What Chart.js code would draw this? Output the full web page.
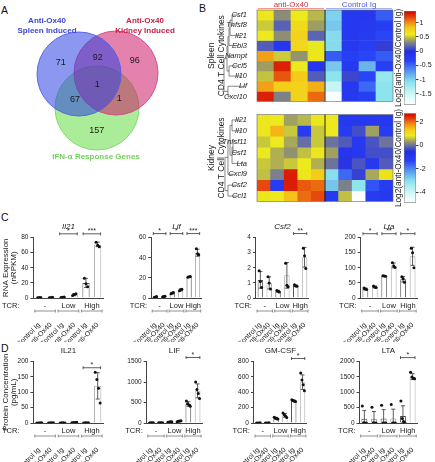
<!DOCTYPE html>
<html lang="en">
<head>
<meta charset="UTF-8">
<meta name="viewport" content="width=device-width, initial-scale=1.0">
<title>Anti-Ox40 induced cytokines</title>
<script src="https://cdn.jsdelivr.net/npm/chart.js"></script>
<style>
  html, body { margin: 0; padding: 0; background: #fff; }
  #fig { position: relative; width: 435px; height: 462px; overflow: hidden; font-family: 'Liberation Sans', Arial, sans-serif; }
  #fig canvas { position: absolute; }
  .tag { position: absolute; font-size: 10.5px; color: #111; line-height: 12px; }
</style>
</head>
<body>
<div id="fig">
  <div class="tag" style="left:1px;top:4px">A</div>
  <div class="tag" style="left:199px;top:2px">B</div>
  <div class="tag" style="left:1px;top:211px">C</div>
  <div class="tag" style="left:1px;top:342px">D</div>
</div>
<script>
// ---------- data ----------
// A: Venn counts, region = which sets it belongs to (0 spleen, 1 kidney, 2 IFN)
const vennSetNames = [['Anti-Ox40', 'Spleen Induced'], ['Anti-Ox40', 'Kidney Induced'], ['IFN-\u03b1 Response Genes']];
const vennRegionSets = [[0], [0, 1], [1], [0, 1, 2], [0, 2], [1, 2], [2]];
const vennCounts = [71, 92, 96, 1, 67, 1, 157];

// B: heatmaps, log2(anti-Ox40 / Control Ig)
const treatmentGroups = ['anti-Ox40', 'Control Ig'];
const spleenGroupSizes = [4, 4];
const kidneyGroupSizes = [5, 5];
const spleenGenes = ['Csf1', 'Tnfsf8', 'Il21', 'Ebi3', 'Nampt', 'Ccl5', 'Il10', 'Lif', 'Cxcl10'];
const spleenLog2 = [
  [0.62, 0.32, 0.60, 0.45, -1.00, -0.20, -0.20, -0.45],
  [0.50, 0.17, 0.70, 0.38, -0.95, -0.20, -0.22, -0.30],
  [0.60, 0.33, 0.75, 0.18, -1.05, -0.20, -0.25, -0.35],
  [0.15, -0.15, 0.72, 0.58, -1.05, -0.20, -0.30, 0.05],
  [0.95, 0.50, 0.35, 0.62, -0.45, -0.30, -0.35, -0.45],
  [0.38, 1.30, 0.60, -0.15, -0.95, -0.20, -0.85, -0.30],
  [0.48, 1.15, 0.80, 0.15, -1.10, 0.08, -0.35, -1.15],
  [0.95, 0.78, 0.75, 0.90, -1.45, -0.20, -0.50, -1.10],
  [1.30, 0.28, 0.75, 1.10, -1.85, -0.20, -0.30, -1.10]
];
const spleenScale = [-1.88, 1.41];
const spleenTicks = [-1.5, -1, -0.5, 0, 0.5, 1];
const kidneyGenes = ['Il21', 'Il10', 'Tnfsf11', 'Csf1', 'Lta', 'Cxcl9', 'Csf2', 'Ccl1'];
const kidneyLog2 = [
  [0.90, 0.85, 0.35, 0.50, 0.90, 0.85, -1.00, -1.00, -1.00, -1.00],
  [0.90, 1.50, 0.60, -1.10, 0.60, 0.85, -1.10, -0.30, 0.35, -1.10],
  [0.60, 0.85, 0.40, -0.05, 0.60, 0.00, -0.20, -1.00, -0.25, 0.00],
  [0.85, 0.45, 0.25, 0.55, 0.90, 0.35, -0.90, -1.00, -0.30, -0.30],
  [0.60, 0.45, 0.60, 0.85, 0.45, 0.00, -0.50, -0.25, -1.00, -0.20],
  [0.55, 0.10, 2.50, 0.90, 1.30, -3.00, -1.70, -0.40, 0.40, 0.95],
  [2.20, -1.10, 2.50, 2.10, 2.00, -2.70, 0.10, -3.10, -1.50, -1.10],
  [0.90, 0.85, 1.40, 2.00, 2.20, -1.00, 0.55, -4.80, -1.10, -1.00]
];
const kidneyScale = [-4.9, 2.73];
const kidneyTicks = [-4, -2, 0, 2];
// dendrogram merges: [node, node, height]; new nodes are numbered after the leaves
const spleenTree = [[0, 1, 0.33], [9, 2, 0.5], [10, 3, 0.58], [11, 4, 0.67], [5, 6, 0.58], [12, 13, 0.75], [7, 8, 0.67], [14, 15, 1.0]];
const kidneyTree = [[0, 1, 0.33], [2, 3, 0.25], [9, 4, 0.33], [8, 10, 0.5], [11, 5, 0.67], [6, 7, 0.67], [12, 13, 0.92]];

// C / D: bars (mean), sd, single replicates, significance [from, to, level, stars]
const tcrLevels = ['-', 'Low', 'High'];
const treatments = ['Control Ig', 'anti-Ox40'];

const il21RnaMean = [0.5, 0.6, 1.0, 4.5, 20, 71];
const il21RnaSd = [0.4, 0.4, 0.5, 1.5, 6, 3];
const il21RnaPts = [[0.2, 0.6, 0.8], [0.3, 0.6, 0.9], [0.6, 1.0, 1.4], [3.2, 4.8, 5.6], [26, 19, 15], [74, 70, 68]];
const il21RnaSig = [[2, 3, 85, '*'], [4, 5, 85, '***']];
const il21RnaTicks = [0, 20, 40, 60, 80];

const lifRnaMean = [1.0, 1.4, 4.8, 8.0, 21, 45];
const lifRnaSd = [0.4, 0.4, 0.7, 1.0, 0.5, 3.5];
const lifRnaPts = [[0.6, 1.0, 1.4], [1.0, 1.4, 1.8], [4.2, 4.9, 5.4], [7.2, 8.1, 8.8], [20.6, 21, 21.4], [49, 44, 43]];
const lifRnaSig = [[0, 1, 64, '*'], [2, 3, 64, '*'], [4, 5, 64, '***']];
const lifRnaTicks = [0, 20, 40, 60];

const csf2RnaMean = [1.2, 1.0, 0.45, 1.5, 0.82, 2.7];
const csf2RnaSd = [0.55, 0.4, 0.06, 0.85, 0.05, 0.65];
const csf2RnaPts = [[1.8, 1.1, 0.7], [1.4, 1.0, 0.6], [0.5, 0.45, 0.4], [2.3, 0.85, 0.75], [0.87, 0.8, 0.78], [3.3, 2.8, 1.95]];
const csf2RnaSig = [[4, 5, 4.27, '**']];
const csf2RnaTicks = [0, 1, 2, 3, 4];

const ltaRnaMean = [30, 37, 73, 108, 62, 138];
const ltaRnaSd = [3, 3, 1.5, 8, 9, 30];
const ltaRnaPts = [[33, 30, 28], [40, 36, 35], [74, 73, 72], [117, 106, 101], [70, 64, 52], [165, 150, 100]];
const ltaRnaSig = [[0, 1, 213, '*'], [2, 3, 213, '**'], [4, 5, 213, '*']];
const ltaRnaTicks = [0, 50, 100, 150, 200];

const il21ProtMean = [0.5, 0.5, 0.5, 1.5, 0.5, 121];
const il21ProtSd = [0.5, 0.5, 0.5, 1, 0.5, 43];
const il21ProtPts = [[0, 0, 0.5, 1], [0, 0.5, 1, 1], [0, 0.5, 1, 0], [0.5, 1.5, 2, 2.5], [0, 0.5, 0.5, 1], [165, 142, 113, 65]];
const il21ProtSig = [[4, 5, 180, '*']];
const il21ProtTicks = [0, 50, 100, 150, 200];

const lifProtMean = [5, 6, 25, 42, 465, 785];
const lifProtSd = [3, 3, 8, 12, 55, 170];
const lifProtPts = [[3, 5, 6, 7], [4, 6, 7, 8], [18, 25, 28, 30], [30, 40, 48, 52], [540, 470, 440, 410], [1000, 820, 720, 600]];
const lifProtSig = [[4, 5, 1600, '*']];
const lifProtTicks = [0, 500, 1000, 1500];

const gmcsfProtMean = [1, 1, 62, 100, 290, 532];
const gmcsfProtSd = [1, 1, 11, 25, 10, 95];
const gmcsfProtPts = [[0, 1, 1, 2], [0, 1, 1, 2], [75, 65, 56, 52], [130, 108, 90, 72], [302, 292, 285, 281], [650, 560, 500, 420]];
const gmcsfProtSig = [[4, 5, 840, '*']];
const gmcsfProtTicks = [0, 200, 400, 600, 800];

const ltaProtMean = [140, 130, 145, 150, 230, 1510];
const ltaProtSd = [270, 245, 290, 300, 330, 95];
const ltaProtPts = [[550, 10, 0, 0], [510, 10, 0, 0], [580, 0, 0, 0], [600, 0, 0, 0], [720, 150, 50, 0], [1650, 1500, 1460, 1440]];
const ltaProtSig = [[4, 5, 2130, '*']];
const ltaProtTicks = [0, 500, 1000, 1500, 2000];

// ---------- setup ----------
const FONT = "'Liberation Sans', Arial, sans-serif";
Chart.defaults.font.family = FONT;
Chart.defaults.color = '#222';
Chart.defaults.animation = false;
Chart.defaults.responsive = false;
Chart.defaults.events = [];
Chart.defaults.layout.autoPadding = false;
Chart.defaults.plugins.legend.display = false;
Chart.defaults.plugins.tooltip.enabled = false;

const fig = document.getElementById('fig');
function addCanvas(left, top, width, height) {
    const c = document.createElement('canvas');
    c.width = width;
    c.height = height;
    c.style.left = left + 'px';
    c.style.top = top + 'px';
    c.style.width = width + 'px';
    c.style.height = height + 'px';
    fig.appendChild(c);
    return c;
}

// ---------- A: Venn ----------
const vennGeom = {
    centers: [[79, 74], [116, 73], [97, 108]],
    radius: 42,
    fill: ['rgba(45,65,225,0.55)', 'rgba(205,25,105,0.55)', 'rgba(100,220,65,0.55)'],
    edge: ['rgba(80,95,225,0.9)', 'rgba(210,70,135,0.9)', 'rgba(120,215,100,0.9)'],
    ink: ['#3b47d8', '#c42046', '#72cf5a'],
    titleAt: [[47, 21], [145, 21], [96, 157]]
};

const vennText = {
    id: 'vennText',
    afterDatasetsDraw(chart) {
        const { ctx, scales: { x, y } } = chart;
        const C = vennGeom.centers;
        const g = [0, 1].map(k => (C[0][k] + C[1][k] + C[2][k]) / 3);
        ctx.save();
        ctx.textAlign = 'center';
        ctx.textBaseline = 'middle';
        ctx.fillStyle = '#1a1a1a';
        ctx.font = '9px ' + FONT;
        vennRegionSets.forEach((sets, i) => {
            // region label sits on the region's side of the common centroid
            const m = [0, 1].map(k => sets.reduce((s, j) => s + C[j][k], 0) / sets.length);
            const push = sets.length === 1 ? 2.0 : sets.length === 2 ? 2.4 : 0;
            ctx.fillText(String(vennCounts[i]),
                x.getPixelForValue(g[0] + push * (m[0] - g[0])),
                y.getPixelForValue(g[1] + push * (m[1] - g[1])));
        });
        ctx.font = 'bold 8px ' + FONT;
        vennSetNames.forEach((lines, i) => {
            ctx.fillStyle = vennGeom.ink[i];
            lines.forEach((t, l) => {
                ctx.fillText(t, x.getPixelForValue(vennGeom.titleAt[i][0]), y.getPixelForValue(vennGeom.titleAt[i][1] + l * 10));
            });
        });
        ctx.restore();
    }
};

new Chart(addCanvas(0, 0, 200, 165), {
    type: 'bubble',
    data: {
        datasets: vennGeom.centers.map((c, i) => ({
            data: [{ x: c[0], y: c[1], r: vennGeom.radius }],
            backgroundColor: vennGeom.fill[i],
            borderColor: vennGeom.edge[i],
            borderWidth: 1,
            clip: false
        }))
    },
    options: {
        layout: { padding: 0, autoPadding: false },
        scales: {
            x: { type: 'linear', min: 0, max: 200, display: false },
            y: { type: 'linear', min: 0, max: 165, reverse: true, display: false }
        }
    },
    plugins: [vennText]
});

// ---------- B: heatmaps + colour bars ----------
const cmap = [
    [0.00, [255, 255, 255]],
    [0.10, [215, 248, 248]],
    [0.24, [140, 228, 236]],
    [0.36, [85, 150, 240]],
    [0.47, [40, 65, 245]],
    [0.57, [35, 45, 230]],
    [0.63, [95, 105, 175]],
    [0.68, [150, 150, 105]],
    [0.75, [235, 235, 30]],
    [0.82, [245, 200, 25]],
    [0.88, [240, 140, 20]],
    [0.94, [228, 60, 10]],
    [1.00, [205, 0, 0]]
];
function heatColor(v, range) {
    const f = Math.min(1, Math.max(0, (v - range[0]) / (range[1] - range[0])));
    for (let i = 1; i < cmap.length; i++) {
        if (f <= cmap[i][0]) {
            const [f0, c0] = cmap[i - 1];
            const [f1, c1] = cmap[i];
            const t = (f - f0) / (f1 - f0);
            return 'rgb(' + c0.map((c, k) => Math.round(c + (c1[k] - c) * t)).join(',') + ')';
        }
    }
    return 'rgb(205,0,0)';
}
const groupInk = ['#d2323f', '#4a5ee0'];
const groupLine = ['#ec9a9a', '#aab2ee'];

function heatDecor(spec) {
    return {
        id: 'heatDecor',
        afterDraw(chart) {
            const { ctx, chartArea: a, scales: { x, yg } } = chart;
            ctx.save();
            ctx.strokeStyle = '#666';
            ctx.lineWidth = 0.6;
            ctx.strokeRect(a.left, a.top, a.width, a.height);
            const split = x.getPixelForValue(spec.groupSizes[0] - 0.5);
            ctx.strokeStyle = '#111';
            ctx.lineWidth = 0.9;
            ctx.beginPath();
            ctx.moveTo(split, a.top);
            ctx.lineTo(split, a.bottom);
            ctx.stroke();

            if (spec.headers) {
                let start = 0;
                treatmentGroups.forEach((name, gi) => {
                    const x0 = x.getPixelForValue(start - 0.5);
                    const x1 = x.getPixelForValue(start + spec.groupSizes[gi] - 0.5);
                    ctx.strokeStyle = groupLine[gi];
                    ctx.lineWidth = 1;
                    ctx.beginPath();
                    ctx.moveTo(x0 + 1, a.top - 1.5);
                    ctx.lineTo(x1 - 1, a.top - 1.5);
                    ctx.stroke();
                    ctx.fillStyle = groupInk[gi];
                    ctx.font = '8px ' + FONT;
                    ctx.textAlign = 'center';
                    ctx.textBaseline = 'alphabetic';
                    ctx.fillText(name, (x0 + x1) / 2, a.top - 3);
                    start += spec.groupSizes[gi];
                });
            }

            // rotated side titles
            const yc = (a.top + a.bottom) / 2;
            ctx.fillStyle = '#222';
            ctx.font = '8.5px ' + FONT;
            ctx.textAlign = 'center';
            ctx.textBaseline = 'middle';
            [[spec.tissue, 45], ['CD4 T Cell Cytokines', 35]].forEach(([t, dx]) => {
                ctx.save();
                ctx.translate(a.left - dx, yc);
                ctx.rotate(-Math.PI / 2);
                ctx.fillText(t, 0, 0);
                ctx.restore();
            });

            // dendrogram
            ctx.font = 'italic 7.5px ' + FONT;
            const labelLeft = i => a.left - 2 - ctx.measureText(spec.genes[i]).width;
            const hx = h => a.left - 21 - h * 12;
            const nodes = spec.genes.map((g, i) => ({ y: yg.getPixelForValue(i), h: 0, leaf: true, i }));
            ctx.strokeStyle = '#555';
            ctx.lineWidth = 0.7;
            spec.tree.forEach(([p, q, h]) => {
                const xm = hx(h);
                ctx.beginPath();
                [nodes[p], nodes[q]].forEach(n => {
                    const xe = n.leaf ? Math.max(labelLeft(n.i) - 1.5, xm + 2) : hx(n.h);
                    ctx.moveTo(xm, n.y);
                    ctx.lineTo(xe, n.y);
                });
                ctx.moveTo(xm, nodes[p].y);
                ctx.lineTo(xm, nodes[q].y);
                ctx.stroke();
                nodes.push({ y: (nodes[p].y + nodes[q].y) / 2, h });
            });
            ctx.restore();
        }
    };
}

function drawHeatmap(canvas, spec) {
    const samples = [];
    treatmentGroups.forEach((g, gi) => {
        for (let k = 1; k <= spec.groupSizes[gi]; k++) samples.push(g + ' ' + k);
    });
    return new Chart(canvas, {
        type: 'bar',
        data: {
            labels: samples,
            datasets: spec.genes.map((g, r) => ({
                label: g,
                data: samples.map(() => 1),
                backgroundColor: spec.values[r].map(v => heatColor(v, spec.range)),
                borderWidth: 0,
                barPercentage: 1,
                categoryPercentage: 1,
                yAxisID: 'y'
            }))
        },
        options: {
            layout: { padding: spec.pad },
            scales: {
                x: { type: 'category', stacked: true, offset: true, display: false },
                y: { type: 'linear', stacked: true, reverse: true, min: 0, max: spec.genes.length, display: false },
                yg: {
                    type: 'category', labels: spec.genes, offset: true, position: 'left',
                    grid: { display: false }, border: { display: false },
                    ticks: { autoSkip: false, font: { size: 7.5, style: 'italic' }, color: '#222', padding: 2 },
                    afterFit: s => { s.width = 57; }
                }
            }
        },
        plugins: [heatDecor(spec)]
    });
}

const colorbarTitle = {
    id: 'colorbarTitle',
    afterDraw(chart) {
        const { ctx, chartArea: a } = chart;
        ctx.save();
        ctx.fillStyle = '#222';
        ctx.font = '8.3px ' + FONT;
        ctx.textAlign = 'center';
        ctx.textBaseline = 'middle';
        ctx.translate(a.left - 5, (a.top + a.bottom) / 2);
        ctx.rotate(-Math.PI / 2);
        ctx.fillText('Log2(anti-Ox40/Control Ig)', 0, 0);
        ctx.restore();
    }
};

function drawColorbar(canvas, range, ticks, pad) {
    return new Chart(canvas, {
        type: 'bar',
        data: {
            labels: ['scale'],
            datasets: [{
                data: [range],
                backgroundColor: c => {
                    const ch = c.chart;
                    if (!ch.chartArea) return '#fff';
                    const y = ch.scales.y;
                    const grad = ch.ctx.createLinearGradient(0, y.getPixelForValue(range[0]), 0, y.getPixelForValue(range[1]));
                    cmap.forEach(([f, col]) => grad.addColorStop(f, 'rgb(' + col.join(',') + ')'));
                    return grad;
                },
                borderColor: '#777',
                borderWidth: 0.8,
                borderSkipped: false,
                barPercentage: 1,
                categoryPercentage: 1
            }]
        },
        options: {
            layout: { padding: pad },
            scales: {
                x: { display: false },
                y: {
                    position: 'right', min: range[0], max: range[1],
                    afterBuildTicks: s => { s.ticks = ticks.map(v => ({ value: v })); },
                    ticks: { font: { size: 7 }, color: '#222', padding: 1, callback: v => String(v) },
                    grid: { drawOnChartArea: false, tickLength: 2.5, color: '#444' },
                    border: { display: false },
                    afterFit: s => { s.width = 18; }
                }
            }
        },
        plugins: [colorbarTitle]
    });
}

drawHeatmap(addCanvas(200, 0, 196, 108), {
    genes: spleenGenes, values: spleenLog2, range: spleenScale, groupSizes: spleenGroupSizes,
    tree: spleenTree, tissue: 'Spleen', headers: true, pad: { top: 10, right: 3, bottom: 2, left: 0 }
});
drawHeatmap(addCanvas(200, 108, 196, 100), {
    genes: kidneyGenes, values: kidneyLog2, range: kidneyScale, groupSizes: kidneyGroupSizes,
    tree: kidneyTree, tissue: 'Kidney', headers: false, pad: { top: 5, right: 3, bottom: 2, left: 0 }
});
drawColorbar(addCanvas(385, 0, 50, 110), spleenScale, spleenTicks, { top: 11, bottom: 3, left: 19, right: 1 });
drawColorbar(addCanvas(385, 108, 50, 100), kidneyScale, kidneyTicks, { top: 4, bottom: 2, left: 19, right: 1 });

// ---------- C / D: bar charts ----------
const barLabels = tcrLevels.flatMap(() => treatments);
const barEdge = barLabels.map((t, i) => (i % 2 === 0 ? '#555' : '#aaa'));

function barExtras(spec) {
    return {
        id: 'barExtras',
        afterDatasetDraw(chart, args) {
            if (args.index !== 0) return;
            // SD error bars, drawn under the dots
            const { ctx, scales: { y } } = chart;
            const meta = chart.getDatasetMeta(0);
            ctx.save();
            ctx.strokeStyle = '#333';
            ctx.lineWidth = 0.8;
            meta.data.forEach((bar, i) => {
                const m = spec.means[i], s = spec.sd[i];
                const y1 = y.getPixelForValue(m + s), y0 = y.getPixelForValue(Math.max(0, m - s));
                ctx.beginPath();
                ctx.moveTo(bar.x, y0); ctx.lineTo(bar.x, y1);
                ctx.moveTo(bar.x - 2, y1); ctx.lineTo(bar.x + 2, y1);
                ctx.moveTo(bar.x - 2, y0); ctx.lineTo(bar.x + 2, y0);
                ctx.stroke();
            });
            ctx.restore();
        },
        afterDraw(chart) {
            const { ctx, chartArea: a, scales: { x, y } } = chart;
            ctx.save();
            ctx.strokeStyle = '#333';
            ctx.fillStyle = '#222';
            ctx.lineWidth = 0.8;
            // significance brackets
            ctx.textAlign = 'center';
            ctx.textBaseline = 'alphabetic';
            ctx.font = '7px ' + FONT;
            spec.sig.forEach(([p, q, lvl, stars]) => {
                const x0 = x.getPixelForValue(p - 0.25), x1 = x.getPixelForValue(q + 0.25), yy = y.getPixelForValue(lvl);
                ctx.beginPath();
                ctx.moveTo(x0, yy); ctx.lineTo(x1, yy);
                ctx.moveTo(x0, yy - 1.5); ctx.lineTo(x0, yy + 1.5);
                ctx.moveTo(x1, yy - 1.5); ctx.lineTo(x1, yy + 1.5);
                ctx.stroke();
                ctx.fillText(stars, (x0 + x1) / 2, yy - 0.5);
            });
            // TCR group row
            const ty = a.bottom + 7.5, by = a.bottom + 13;
            ctx.font = '7.5px ' + FONT;
            ctx.textBaseline = 'middle';
            ctx.textAlign = 'right';
            ctx.fillText('TCR:', a.left - spec.tcrGap, ty);
            ctx.textAlign = 'center';
            ctx.strokeStyle = '#777';
            tcrLevels.forEach((lvl, g) => {
                ctx.fillText(lvl, x.getPixelForValue(2 * g + 0.5), ty);
                const x0 = x.getPixelForValue(2 * g - 0.38), x1 = x.getPixelForValue(2 * g + 1.38);
                ctx.beginPath();
                ctx.moveTo(x0, by); ctx.lineTo(x1, by);
                ctx.moveTo(x0, by - 1.5); ctx.lineTo(x0, by + 1.5);
                ctx.moveTo(x1, by - 1.5); ctx.lineTo(x1, by + 1.5);
                ctx.stroke();
            });
            ctx.restore();
        }
    };
}

function drawBars(canvas, spec) {
    const dots = [];
    spec.pts.forEach((arr, i) => arr.forEach((v, k) => dots.push({ x: i + (k - (arr.length - 1) / 2) * 0.14, y: v })));
    const top = spec.ticks[spec.ticks.length - 1];
    return new Chart(canvas, {
        type: 'bar',
        data: {
            datasets: [
                {
                    type: 'bar', data: spec.means.map((m, i) => ({ x: i, y: m })),
                    backgroundColor: '#fff', borderColor: barEdge, borderWidth: 1,
                    barPercentage: 0.62, categoryPercentage: 1, order: 2
                },
                {
                    type: 'scatter', data: dots,
                    pointRadius: 1.5, backgroundColor: '#111', borderWidth: 0, order: 1
                }
            ]
        },
        options: {
            layout: { padding: { right: 2 } },
            plugins: {
                title: {
                    display: true, text: spec.title, color: '#222', fullSize: false,
                    font: { size: 8, weight: 'normal', style: spec.italic ? 'italic' : 'normal' },
                    padding: { top: 3, bottom: 6 }
                }
            },
            scales: {
                x: {
                    type: 'linear', min: -0.5, max: 5.5, offset: false,
                    afterBuildTicks: s => { s.ticks = barLabels.map((l, i) => ({ value: i })); },
                    grid: { display: false },
                    border: { display: true, color: '#444', width: 1 },
                    ticks: {
                        autoSkip: false, minRotation: 45, maxRotation: 45, padding: 15,
                        font: { size: 7 }, color: '#222', callback: v => barLabels[v]
                    },
                    afterFit: s => { s.height = 44; }
                },
                y: {
                    type: 'linear', min: 0, max: top,
                    afterBuildTicks: s => { s.ticks = spec.ticks.map(v => ({ value: v })); },
                    ticks: { font: { size: 6.5 }, color: '#222', padding: 2, callback: v => String(v) },
                    grid: { drawOnChartArea: false, tickLength: 3, color: '#444' },
                    border: { color: '#444' },
                    title: spec.yTitle
                        ? { display: true, text: spec.yTitle, font: { size: 8, lineHeight: 1.05 }, color: '#222', padding: { top: 0, bottom: 1 } }
                        : { display: false },
                    afterFit: s => { s.width = spec.yw; }
                }
            }
        },
        plugins: [barExtras(spec)]
    });
}

const rnaSpecs = [
    { title: 'Il21', means: il21RnaMean, sd: il21RnaSd, pts: il21RnaPts, sig: il21RnaSig, ticks: il21RnaTicks },
    { title: 'Lif', means: lifRnaMean, sd: lifRnaSd, pts: lifRnaPts, sig: lifRnaSig, ticks: lifRnaTicks },
    { title: 'Csf2', means: csf2RnaMean, sd: csf2RnaSd, pts: csf2RnaPts, sig: csf2RnaSig, ticks: csf2RnaTicks },
    { title: 'Lta', means: ltaRnaMean, sd: ltaRnaSd, pts: ltaRnaPts, sig: ltaRnaSig, ticks: ltaRnaTicks }
];
const protSpecs = [
    { title: 'IL21', means: il21ProtMean, sd: il21ProtSd, pts: il21ProtPts, sig: il21ProtSig, ticks: il21ProtTicks },
    { title: 'LIF', means: lifProtMean, sd: lifProtSd, pts: lifProtPts, sig: lifProtSig, ticks: lifProtTicks },
    { title: 'GM-CSF', means: gmcsfProtMean, sd: gmcsfProtSd, pts: gmcsfProtPts, sig: gmcsfProtSig, ticks: gmcsfProtTicks },
    { title: 'LTA', means: ltaProtMean, sd: ltaProtSd, pts: ltaProtPts, sig: ltaProtSig, ticks: ltaProtTicks }
];

// [canvas left, y-axis width, canvas width]
const rowCBoxes = [[0, 32, 120], [116, 26, 104], [221, 24, 106], [326, 27, 109]];
const rowDBoxes = [[0, 32, 120], [112, 26, 108], [219, 24, 106], [325, 27, 110]];

rnaSpecs.forEach((s, i) => {
    const [left, yw, w] = rowCBoxes[i];
    drawBars(addCanvas(left, 219, w, 123), Object.assign({}, s, {
        italic: true, yw, tcrGap: i === 0 ? 14 : 4,
        yTitle: i === 0 ? ['RNA Expression', '(nRPKM)'] : null
    }));
});
protSpecs.forEach((s, i) => {
    const [left, yw, w] = rowDBoxes[i];
    drawBars(addCanvas(left, 343, w, 124), Object.assign({}, s, {
        italic: false, yw, tcrGap: i === 0 ? 14 : 4,
        yTitle: i === 0 ? ['Protein Concentration', '(pg/mL)'] : null
    }));
});
</script>
</body>
</html>
